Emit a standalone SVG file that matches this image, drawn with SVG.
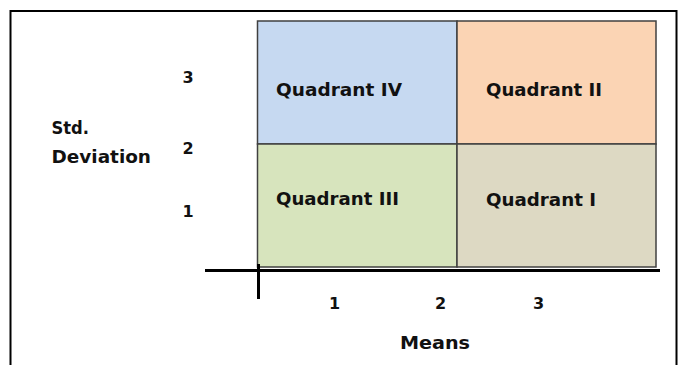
<svg xmlns="http://www.w3.org/2000/svg" width="681" height="365" viewBox="0 0 681 365">
<style>
.t{font-family:"DejaVu Sans",Verdana,sans-serif;font-weight:bold;font-size:16px;fill:#111}
.w{font-size:17px}
.q{stroke:#404040;stroke-width:1.5}
.ax{stroke:#000;stroke-width:3;fill:none}
</style>
<rect x="0" y="0" width="681" height="365" fill="#fff"/>
<rect x="10.5" y="11" width="666" height="370" fill="none" stroke="#000" stroke-width="2"/>
<g id="quadrant-iv"><rect class="q" x="257.5" y="21" width="199.5" height="123" fill="#C6D9F1"/><text class="t w" x="276" y="96" textLength="126" lengthAdjust="spacingAndGlyphs">Quadrant IV</text></g>
<g id="quadrant-ii"><rect class="q" x="457" y="21" width="199" height="123" fill="#FBD4B4"/><text class="t w" x="486" y="95.5" textLength="116" lengthAdjust="spacingAndGlyphs">Quadrant II</text></g>
<g id="quadrant-iii"><rect class="q" x="257.5" y="144" width="199.5" height="123" fill="#D7E4BD"/><text class="t w" x="276" y="204.5" textLength="123" lengthAdjust="spacingAndGlyphs">Quadrant III</text></g>
<g id="quadrant-i"><rect class="q" x="457" y="144" width="199" height="123" fill="#DDD9C3"/><text class="t w" x="486" y="205.5" textLength="110" lengthAdjust="spacingAndGlyphs">Quadrant I</text></g>
<g id="axes">
<line class="ax" x1="205" y1="270.5" x2="660" y2="270.5"/>
<line class="ax" x1="258.5" y1="264" x2="258.5" y2="299"/>
</g>
<g id="labels">
<text class="t w" x="51.5" y="134" textLength="37.5" lengthAdjust="spacingAndGlyphs">Std.</text>
<text class="t w" x="51.5" y="162.5" textLength="99.5" lengthAdjust="spacingAndGlyphs">Deviation</text>
<text class="t" x="182.5" y="82.5">3</text>
<text class="t" x="182.5" y="154">2</text>
<text class="t" x="182.5" y="216.5">1</text>
<text class="t" x="329" y="308.5">1</text>
<text class="t" x="435" y="308.5">2</text>
<text class="t" x="533" y="308.5">3</text>
<text class="t w" x="400" y="348.5" textLength="70" lengthAdjust="spacingAndGlyphs">Means</text>
</g>
</svg>
